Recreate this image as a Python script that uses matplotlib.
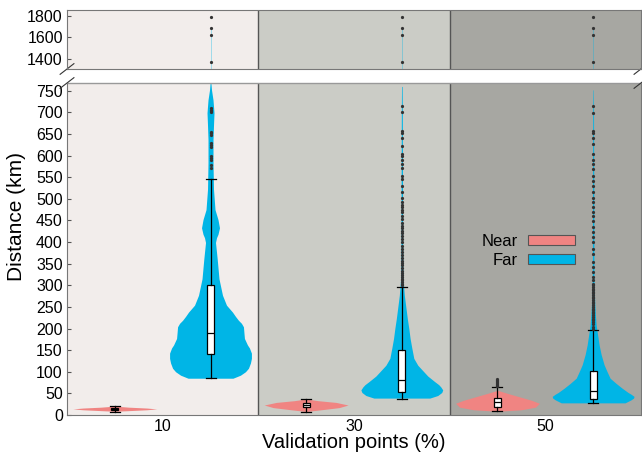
import matplotlib
matplotlib.use("Agg")
import matplotlib.pyplot as plt
from matplotlib.patches import Patch

plt.rcParams['font.family'] = ['Liberation Sans', 'DejaVu Sans']

groups = ['10', '30', '50']
bg_colors = ['#f2edeb', '#cbccc6', '#a7a7a2']
near_color = '#f08482'
far_color = '#00b5e6'

# violin outlines: distance (km) and half width (px)
near_d = [
    [8.5, 10, 12, 14, 16, 18, 20.5],
    [8, 12, 17, 23, 29, 33, 37],
    [8.5, 12, 18, 27, 34, 42, 50, 57],
]
near_w = [
    [0, 14, 32, 42, 32, 14, 0],
    [0, 15, 33, 42, 30, 12, 0],
    [0, 24, 38, 42, 34, 22, 10, 0],
]
far_d = [
    [85, 92, 100, 108, 120, 131, 143, 155, 162, 177, 190, 204, 212, 219, 228,
     238, 254, 277, 315, 361, 399, 410, 418, 433, 452, 475, 522, 583, 637, 670,
     699, 729, 752, 768],
    [39, 45, 52, 58, 65, 70, 77, 90, 100, 115, 131, 155, 177, 200, 223, 250,
     277, 315, 400, 500, 600, 700, 760],
    [28, 35, 39, 43, 48, 52, 62, 73, 85, 100, 116, 140, 162, 185, 208, 230,
     254, 285, 315, 400, 500, 600, 700, 752],
]
far_w = [
    [22.5, 30, 35, 38, 40, 41, 41, 39, 37, 34, 33.5, 33, 31, 28, 25, 22, 16,
     12, 8.5, 6.7, 5, 6, 7.5, 9, 7.5, 4.5, 3, 2.5, 2.5, 3, 3.5, 2.5, 1, 0.4],
    [28, 36, 40, 41, 39, 37, 33, 26, 22, 16, 12, 10, 8.3, 7, 5.5, 4, 2.5, 1.2,
     0.8, 0.7, 0.6, 0.5, 0.3],
    [32, 38, 40.5, 41, 38, 35, 29, 23, 17, 14, 11, 8, 6, 4.5, 3, 2.3, 1.7,
     1.2, 0.8, 0.7, 0.6, 0.5, 0.4, 0.2],
]

# box stats: whislo, q1, med, q3, whishi
near_box = [[6, 12, 14, 16, 21], [7, 18, 22, 27, 37.5], [8.5, 18, 29, 39, 64]]
far_box = [[85, 140, 189, 301, 546], [38, 54, 81, 150, 296], [28, 37, 56, 102, 196]]

near_out = [[], [], [66, 68, 70, 72, 74, 76, 78, 80, 83]]
far_top_out = [1370, 1624, 1690, 1785]
far_out = [
    [572, 578, 590, 595, 600, 620, 625, 630, 648, 652, 655, 700, 703, 706, 710],
    [300, 304, 308, 312, 315, 320, 323, 328, 334, 340, 346, 352, 357, 363, 369,
     376, 384, 392, 400, 408, 415, 420, 426, 432, 438, 445, 453, 461, 469, 475,
     480, 486, 492, 503, 515, 530, 545, 553, 572, 580, 591, 599, 603, 622, 641,
     653, 656, 702, 714],
    [200, 204, 210, 215, 220, 223, 227, 231, 235, 238, 242, 246, 250, 254, 258,
     262, 266, 270, 273, 277, 281, 285, 289, 292, 296, 300, 304, 312, 319, 331,
     342, 354, 373, 384, 400, 411, 423, 434, 449, 461, 469, 480, 492, 503, 515,
     530, 541, 553, 568, 580, 591, 603, 626, 641, 653, 656, 699, 714],
]

px = 1 / 191.7  # one group is ~192 px wide

fig = plt.figure(figsize=(6.42, 4.55), dpi=100)
ax_top = fig.add_axes([0.1044, 0.8484, 0.894, 0.1297])
ax = fig.add_axes([0.1044, 0.088, 0.894, 0.7296])

for a in (ax, ax_top):
    for i, c in enumerate(bg_colors):
        a.axvspan(i + 0.5, i + 1.5, color=c, lw=0, zorder=0)
    for xb in (1.5, 2.5):
        a.axvline(xb, color='#555555', lw=1, zorder=1)

    for i in range(3):
        pn = i + 1 - 0.25
        pf = i + 1 + 0.25
        wn = [w * px for w in near_w[i]]
        wf = [w * px for w in far_w[i]]
        a.fill_betweenx(near_d[i], [pn - w for w in wn], [pn + w for w in wn],
                        color=near_color, lw=0, zorder=2)
        a.fill_betweenx(far_d[i], [pf - w for w in wf], [pf + w for w in wf],
                        color=far_color, lw=0, zorder=2)
        a.plot([pf, pf], [768, 1690], color=far_color, lw=0.4, alpha=0.6, zorder=2)

        stats = []
        for b, out in ((near_box[i], near_out[i]),
                       (far_box[i], far_out[i] + far_top_out)):
            stats.append(dict(whislo=b[0], q1=b[1], med=b[2], q3=b[3], whishi=b[4],
                              fliers=out))
        a.bxp(stats, positions=[pn, pf], widths=7 * px, capwidths=10 * px,
              patch_artist=True, showfliers=True, manage_ticks=False,
              boxprops=dict(facecolor='white', edgecolor='black', lw=0.9),
              medianprops=dict(color='black', lw=0.9),
              whiskerprops=dict(color='black', lw=0.9),
              capprops=dict(color='black', lw=0.9),
              flierprops=dict(marker='o', markersize=1.3, markerfacecolor='#333333',
                              markeredgecolor='#333333', lw=0),
              zorder=3)

    a.set_xlim(0.5, 3.5)
    for s in a.spines.values():
        s.set_color('#777777')
    a.tick_params(axis='y', direction='in', length=3, color='#555555',
                  labelsize=11.5, pad=3)
    a.tick_params(axis='x', length=0)

ax.set_ylim(0, 768)
ax.set_yticks(range(0, 751, 50))
ax.set_xticks([1, 2, 3])
ax.set_xticklabels(groups, fontsize=11.5)
ax.tick_params(axis='x', pad=3)
ax.spines['top'].set_visible(False)
ax.plot([0, 1], [1, 1], transform=ax.transAxes, color='#999999', lw=1, clip_on=False)

ax_top.set_ylim(1310, 1852)
ax_top.set_yticks([1400, 1600, 1800])
ax_top.set_xticks([])

# break marks
d = 0.012
for xx in (0, 1):
    ax_top.plot([xx - d, xx + d], [-0.09, 0.09], transform=ax_top.transAxes,
                color='#333333', lw=0.8, clip_on=False)
    ax.plot([xx - d, xx + d], [1 - 0.016, 1 + 0.016], transform=ax.transAxes,
            color='#333333', lw=0.8, clip_on=False)

ax.set_ylabel('Distance (km)', fontsize=15)
ax.yaxis.set_label_coords(-0.071, 0.597)
ax.set_xlabel('Validation points (%)', fontsize=14.5, labelpad=-1)

handles = [Patch(facecolor=near_color, edgecolor='#555555', lw=0.8, label='Near'),
           Patch(facecolor=far_color, edgecolor='#555555', lw=0.8, label='Far')]
ax.legend(handles=handles, loc='center right', bbox_to_anchor=(0.899, 0.495),
          frameon=False, markerfirst=False, fontsize=12, handlelength=2.8,
          handleheight=0.55, handletextpad=0.6, labelspacing=0.25, borderpad=0)

fig.savefig('out.png', dpi=100)
